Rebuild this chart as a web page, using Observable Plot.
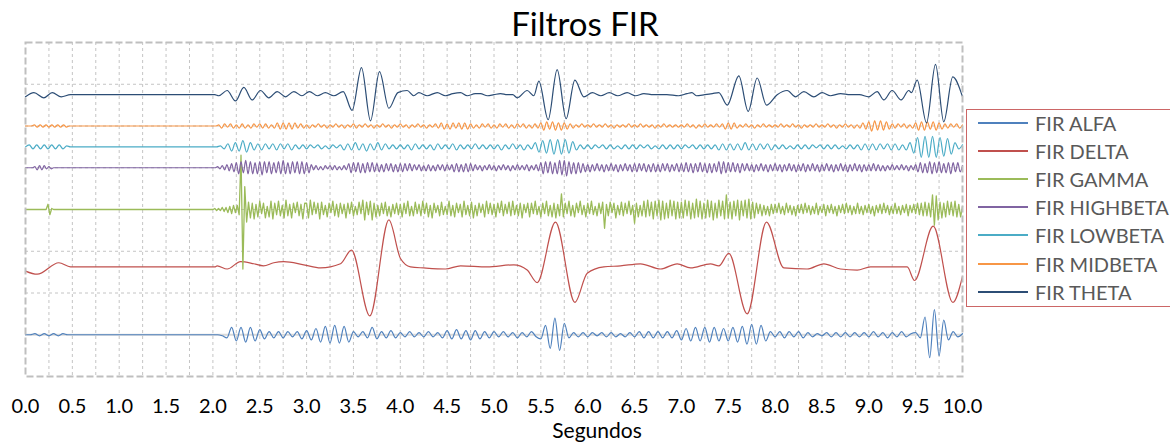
<!DOCTYPE html>
<html><head><meta charset="utf-8">
<script src="https://cdn.jsdelivr.net/npm/d3@7"></script>
<script src="https://cdn.jsdelivr.net/npm/@observablehq/plot@0.6"></script>
<style>
body{margin:0;width:1170px;height:442px;overflow:hidden;background:#fff;font-family:Lato,sans-serif;position:relative}
#title{position:absolute;left:0;top:0;width:1170px;text-align:center;font-size:33px;line-height:46px;color:#000}
#chart{position:absolute;left:0;top:36px}
#legend{position:absolute;left:966px;top:109px;width:220px;height:198px;border:1.5px solid #cc6666;box-sizing:border-box;background:#fff}
.row{position:absolute;left:0;height:28px;display:flex;align-items:center;white-space:nowrap}
.sw{display:inline-block;width:50px;height:2px;margin-left:10.5px;margin-right:7.5px}
.lab{font-size:20px;color:#595959;line-height:28px}
</style></head>
<body>
<div id="title">Filtros FIR</div>
<div id="chart"></div>
<div id="legend"></div>
<script>
const seriesNames = ["FIR ALFA","FIR DELTA","FIR GAMMA","FIR HIGHBETA","FIR LOWBETA","FIR MIDBETA","FIR THETA"];
const seriesColors = ["#4F81BD","#C0504D","#9BBB59","#8064A2","#4BACC6","#F79646","#2C4D75"];
const seriesOffsets = [0, 65, 120, 160, 180, 200, 230];
const xTickValues = d3.range(0, 10.01, 0.5);
const xAxisTitle = "Segundos";

// theta: [seconds, value]
const thetaPoints = [[0,-2],[0.09,2],[0.196,-3],[0.285,2],[0.381,-2],[0.48,0],[2.02,0],
[2.063,-1],[2.152,4],[2.241,-6],[2.33,7],[2.419,-5],[2.508,4],[2.597,-3],[2.686,3],[2.775,-2],[2.864,3],[2.95,-1],[3.03,3],[3.115,-1],[3.2,2],[3.29,-1],[3.39,3],
[3.486,-15],[3.586,26],[3.682,-25],[3.778,22],[3.878,-13],[3.974,2],[4.073,4],[4.144,-1],[4.198,2],[4.287,-1],[4.394,2],[4.482,-1],[4.56,1],[4.643,2],[4.714,-1],[4.8,1],[4.856,1],[4.93,-1],[5.0,0],[5.07,1],[5.141,0],[5.2,0],[5.248,-3],[5.354,4],[5.425,-1],
[5.479,13],[5.578,-24],[5.674,24],[5.77,-23],[5.863,14],[5.959,-2],[6.05,2],[6.14,-1],[6.23,2],[6.32,-1],[6.42,2],[6.51,-1],[6.6,1],[6.7,0],[6.845,0],[6.97,-1],[7.06,1],[7.112,2],[7.16,-1],[7.25,0],[7.33,1],[7.399,2],
[7.489,-10],[7.613,18],[7.713,-16],[7.809,16],[7.908,-10],[8.022,0],[8.129,4],[8.218,-2],[8.307,3],[8.413,-2],[8.502,2],[8.591,-1],[8.7,1],[8.8,0],[8.9,0],[9.0,-2],[9.089,3],[9.16,-5],[9.249,4],[9.345,-5],[9.427,4],[9.455,2],[9.516,14],[9.616,-27],[9.712,29],[9.8,-26],[9.896,17],[10,-2]];

// delta: [seconds, value]
const deltaPoints = [[0,-4],[0.125,-7],[0.356,4],[0.48,0],[2.02,0],[2.045,1],[2.152,-2],[2.295,5],[2.437,3],[2.54,1],[2.65,4],[2.757,5],[2.97,2],[3.148,-1],[3.362,3],[3.479,16],[3.675,-47],[3.878,45],[4.002,8],[4.109,0],[4.25,-1],[4.482,-2],[4.643,1],[4.927,0],[5.211,2],[5.354,-3],[5.461,-15],[5.656,43],[5.863,-34],[5.995,-6],[6.172,0],[6.35,1],[6.563,3],[6.777,-2],[6.955,3],[7.097,-1],[7.31,3],[7.4,1],[7.506,13],[7.702,-45],[7.908,43],[8.093,-1],[8.342,-2],[8.52,3],[8.698,-2],[8.876,-3],[9.018,0],[9.41,0],[9.488,-13],[9.687,39],[9.897,-34],[10,-9]];

// alfa: one value every 0.05 s
const alfaStep = 0.05;
const alfaValues = [
0,0,1,-1,1,-1,1,-1,1,0,
0,0,0,0,0,0,0,0,0,0,
0,0,0,0,0,0,0,0,0,0,
0,0,0,0,0,0,0,0,0,0,
0,0,-1,-3,7,-6,7,-7,7,-6,
5,-4,3,-3,3,-3,3,-2,3,-4,
4,-5,6,-7,8,-8,9,-8,8,-7,
3,-2,3,-3,7,-4,3,-3,4,-3,
2,-2,3,-2,2,-2,3,-2,2,-3,
4,-4,5,-4,4,-5,4,-4,3,-3,
3,-2,3,-2,2,-3,2,-2,3,-2,
-4,9,-13,16,-15,11,-3,2,-2,2,
-2,2,-1,2,-2,2,-2,1,-2,2,
-2,3,-3,3,-3,3,-3,3,-3,4,
-5,6,-6,7,-6,7,-7,7,-6,6,
-6,7,-7,8,-9,10,-9,9,-6,3,
-2,3,-3,3,-2,3,-3,2,-2,1,
-1,2,-2,2,-2,2,-2,2,-2,2,
-2,3,-2,2,-3,2,-2,3,-2,1,
2,-3,17,-22,24,-20,14,-5,3,-2,
1];

// lowbeta: one value every 0.04 s (25 per second)
const lowbetaStep = 0.04;
const lowbetaValues = [
0,2,-2,2,-2,2,-2,2,-2,2,-2,1,0,0,0,0,0,0,0,0,0,0,0,0,0,
0,0,0,0,0,0,0,0,0,0,0,0,0,0,0,0,0,0,0,0,0,0,0,0,0,
0,0,1,-2,3,-4,4,-4,6,-5,4,-3,3,-3,3,-2,3,-3,3,-2,3,-3,2,-2,2,
-2,2,-1,2,-2,1,-2,2,-1,2,-3,3,-3,4,-3,3,-4,3,-3,4,-3,3,-2,2,-2,
2,-2,2,-3,3,-2,2,-2,2,-3,3,-2,2,-2,3,-3,2,-2,2,-2,3,-2,2,-2,2,
-2,2,-3,2,-2,3,-2,2,-3,2,-2,4,-5,6,-6,7,-7,7,-7,7,-6,5,-3,2,-2,
2,-2,2,-1,2,-2,2,-2,1,-2,2,-2,2,-2,2,-1,2,-2,1,-2,2,-2,2,-2,2,
-2,2,-1,2,-2,2,-2,2,-2,2,-3,3,-3,3,-3,3,-3,4,-3,3,-3,3,-2,3,-3,
2,-2,2,-2,1,-2,2,-2,2,-2,2,-1,2,-2,2,-2,2,-2,1,-2,2,-2,2,-3,3,
-3,3,-3,3,-2,3,-3,3,-3,2,-3,4,-6,9,-10,10,-10,10,-10,9,-9,8,-7,4,-2,
2];

// midbeta: one value every 1/32 s
const midbetaStep = 1 / 32;
const midbetaValues = [
0,0,0,1,-1,1,-1,1, -1,1,-1,1,-1,1,-1,0, 0,0,0,0,0,0,0,0, 0,0,0,0,0,0,0,0,
0,0,0,0,0,0,0,0, 0,0,0,0,0,0,0,0, 0,0,0,0,0,0,0,0, 0,0,0,0,0,0,0,0,
0,0,1,-2,2,-1,2,-2, 1,-2,2,-2,1,-2,2,-1, 2,-2,2,-2,1,-2,3,-3, 3,-3,3,-3,3,-2,2,-2,
1,-2,1,-1,2,-1,1,-2, 1,-1,2,-1,1,-2,1,-1, 2,-2,1,-1,2,-1,1,-2, 1,-1,2,-1,1,-2,1,-1,
2,-1,1,-2,1,-1,2,-1, 1,-2,1,-1,2,-2,3,-3, 2,-3,3,-2,3,-3,3,-3, 2,-2,1,-2,2,-1,2,-2,
1,-2,2,-1,2,-2,1,-2, 2,-1,2,-2,1,-2,2,-2, 3,-4,4,-3,4,-4,3,-4, 3,-3,2,-2,1,-1,2,-1,
1,-1,2,-1,1,-1,2,-1, 1,-2,1,-1,1,-1,2,-1, 1,-1,2,-1,1,-1,1,-2, 1,-1,2,-1,1,-1,1,-1,
1,-1,2,-1,1,-2,1,-1, 2,-1,1,-1,2,-1,2,-3, 3,-3,3,-2,1,-1,2,-1, 1,-2,1,-1,2,-1,1,-1,
1,-1,2,-1,1,-1,2,-1, 1,-2,1,-1,1,-1,2,-1, 1,-1,2,-1,1,-2,1,-1, 2,-1,1,-2,1,-2,3,-3,
4,-5,5,-4,5,-4,4,-3, 2,-2,2,-1,2,-2,1,-2, 3,-4,4,-4,4,-3,4,-4, 3,-3,2,-2,2,-1,2,-2,
1];

// highbeta: one value every 0.025 s (40 per second)
const highbetaStep = 0.025;
const highbetaValues = [
0,0,0,0,1,-2,2,-2,2,-1, 1,-1,0,0,0,0,0,0,0,0, 0,0,0,0,0,0,0,0,0,0, 0,0,0,0,0,0,0,0,0,0,
0,0,0,0,0,0,0,0,0,0, 0,0,0,0,0,0,0,0,0,0, 0,0,0,0,0,0,0,0,0,0, 0,0,0,0,0,0,0,0,0,0,
0,0,1,-1,2,-2,3,-3,4,-4, 5,-6,6,-5,7,-6,6,-6,5,-6, 6,-7,6,-5,6,-6,5,-5,6,-6, 7,-6,5,-6,6,-5,6,-6,6,-6,
5,-5,3,-2,2,-2,1,-2,2,-1, 2,-2,2,-2,1,-2,2,-2,4,-5, 5,-4,5,-5,4,-5,5,-4,5,-4, 4,-4,3,-4,4,-3,4,-4,3,-4,
4,-4,4,-3,4,-3,3,-2,3,-3, 2,-3,3,-3,2,-3,3,-2,3,-3, 3,-2,3,-4,4,-4,3,-4,4,-4, 4,-3,3,-2,2,-3,2,-2,3,-2,
2,-3,2,-2,3,-2,2,-3,2,-2, 3,-2,2,-2,3,-3,2,-2,3,-3, 5,-6,6,-5,6,-6,5,-6,7,-7, 7,-8,6,-6,5,-6,5,-5,4,-4,
3,-4,3,-3,4,-3,3,-4,3,-3, 4,-3,3,-4,3,-3,4,-3,3,-4, 4,-4,4,-3,4,-4,3,-4,4,-4, 3,-4,4,-3,4,-4,3,-3,4,-4,
4,-4,5,-4,4,-5,4,-4,5,-4, 4,-5,4,-5,4,-4,6,-6,6,-5, 5,-4,5,-4,4,-5,4,-3,4,-3, 3,-4,3,-3,4,-3,3,-4,3,-3,
4,-3,3,-4,3,-3,4,-3,3,-4, 3,-3,4,-4,3,-3,4,-3,3,-4, 3,-3,4,-3,3,-4,3,-3,4,-3, 3,-4,3,-3,4,-3,3,-4,3,-3,
3,-3,4,-3,3,-3,2,-3,2,-2, 3,-2,2,-2,3,-2,2,-3,2,-2, 3,-4,5,-5,4,-5,6,-6,5,-5, 6,-5,4,-5,5,-6,5,-4,5,-4,
2];

// gamma: one value every 0.02 s (50 per second)
const gammaStep = 0.02;
const gammaValues = [
0,0,0,0,0,0,0,0,0,0, 0,0,5,-5,1,0,0,0,0,0, 0,0,0,0,0,0,0,0,0,0, 0,0,0,0,0,0,0,0,0,0, 0,0,0,0,0,0,0,0,0,0,
0,0,0,0,0,0,0,0,0,0, 0,0,0,0,0,0,0,0,0,0, 0,0,0,0,0,0,0,0,0,0, 0,0,0,0,0,0,0,0,0,0, 0,0,0,0,0,0,0,0,0,0,
0,1,-1,1,-1,2,-2,2,-3,3, -4,4,-3,4,-5,52,-57,22,-12,7, -8,6,-9,5,-7,8,-4,6,-8,3, -7,8,-9,6,-5,8,-6,4,-8,9, -6,5,-8,6,-3,7,-6,5,-9,6,
6,-8,9,-5,7,-4,6,-9,7,-5, 4,-7,6,-3,8,-6,5,-7,6,-4, 5,-8,6,-4,7,-6,3,-5,7,-4, 9,-10,7,-5,8,-10,6,-7,4,-6, 6,-4,7,-6,3,-7,5,-4,6,-5,
5,-7,6,-4,8,-6,3,-6,7,-4, 5,-6,8,-4,6,-7,4,-8,6,-3, 4,-6,7,-5,3,-5,8,-6,4,-7, 6,-3,5,-7,8,-5,4,-6,7,-8, 4,-6,6,-3,5,-7,8,-4,6,-5,
5,-7,6,-3,8,-6,5,-4,7,-6, 8,-5,4,-6,6,-8,5,-3,6,-7, 6,-4,8,-5,3,-7,6,-4,8,-6, 4,-7,6,-8,5,-6,15,-7,6,-4, 8,-6,4,-7,6,-3,8,-5,4,-7,
6,-4,8,-5,3,-6,6,-4,7,-18, 5,-6,7,-3,6,-8,4,-5,7,-6, 6,-4,8,-5,4,-13,6,-7,4,-6, 8,-7,9,-6,7,-9,8,-6,9,-10, 8,-9,6,-8,9,-6,8,-9,7,-8,
7,-8,9,-6,8,-9,6,-8,10,-7, 8,-9,6,-8,9,-7,8,-10,6,-8, 9,-6,8,-9,14,-8,7,-9,8,-6, 9,-10,8,-6,9,-8,10,-9,7,-8, 6,-4,5,-6,4,-5,3,-6,5,-4,
5,-3,6,-4,3,-5,6,-3,4,-5, 3,-6,4,-3,5,-4,6,-3,4,-5, 3,-4,6,-5,3,-3,5,-6,4,-3, 5,-4,3,-6,4,-3,5,-4,6,-3, 4,-5,3,-4,6,-4,3,-5,4,-3,
5,-4,3,-6,4,-3,5,-4,6,-3, 4,-5,3,-4,6,-4,3,-5,4,-3, 5,-6,4,-3,5,-4,6,-5,6,-6, 7,-6,6,-7,14,-15,13,-10,7,-8, 6,-7,8,-5,7,-6,8,-7,5,-7,
3];

const fromGrid = (vals, step) => vals.map((v, i) => [i * step, v]);
const seriesPoints = [
  fromGrid(alfaValues, alfaStep),
  deltaPoints,
  fromGrid(gammaValues, gammaStep),
  fromGrid(highbetaValues, highbetaStep),
  fromGrid(lowbetaValues, lowbetaStep),
  fromGrid(midbetaValues, midbetaStep),
  thetaPoints
];
const curves = ["monotone-x","monotone-x","linear","monotone-x","monotone-x","monotone-x","monotone-x"];
const widths = [1.2, 1.2, 1.3, 1.2, 1.2, 1.2, 1.2];

const lineMarks = seriesNames.map((name, k) =>
  Plot.line(seriesPoints[k].map(([t, v]) => ({t, y: v + seriesOffsets[k]})), {
    x: "t", y: "y", stroke: seriesColors[k], strokeWidth: widths[k], curve: curves[k]
  })
);

const gridX = d3.range(1, 40).map(i => i * 0.25);
const gridY = [40, 80, 120, 160, 200, 240];

const plot = Plot.plot({
  width: 1170, height: 406,
  marginTop: 6, marginBottom: 66, marginLeft: 25, marginRight: 208,
  style: {fontFamily: "Lato, sans-serif", fontSize: "20px", color: "#000", background: "transparent"},
  x: {domain: [0, 10], label: null},
  y: {domain: [-40, 280], axis: null},
  marks: [
    Plot.ruleX(gridX, {stroke: "#c4c4c4", strokeWidth: 1, strokeDasharray: "3,3"}),
    Plot.ruleY(gridY, {stroke: "#c4c4c4", strokeWidth: 1, strokeDasharray: "3,3"}),
    Plot.ruleY([0], {stroke: "#d9d9d9", strokeWidth: 2}),
    ...lineMarks,
    Plot.frame({stroke: "#bfbfbf", strokeWidth: 2, strokeDasharray: "7,3"}),
    Plot.axisX({ticks: xTickValues, tickFormat: d3.format(".1f"), tickSize: 0, tickPadding: 22, label: null, fill: "#000"}),
    Plot.text([xAxisTitle], {text: d => d, frameAnchor: "bottom", lineAnchor: "top", dy: 46.5, dx: 103, fontSize: 21, fill: "#000"})
  ]
});
document.getElementById("chart").appendChild(plot);

const legend = document.getElementById("legend");
seriesNames.forEach((name, k) => {
  const row = document.createElement("div");
  row.className = "row";
  row.style.top = (-1.2 + k * 28.17) + "px";
  const sw = document.createElement("span");
  sw.className = "sw"; sw.style.background = seriesColors[k];
  const lab = document.createElement("span");
  lab.className = "lab"; lab.textContent = name;
  row.appendChild(sw); row.appendChild(lab);
  legend.appendChild(row);
});
</script>
</body></html>
